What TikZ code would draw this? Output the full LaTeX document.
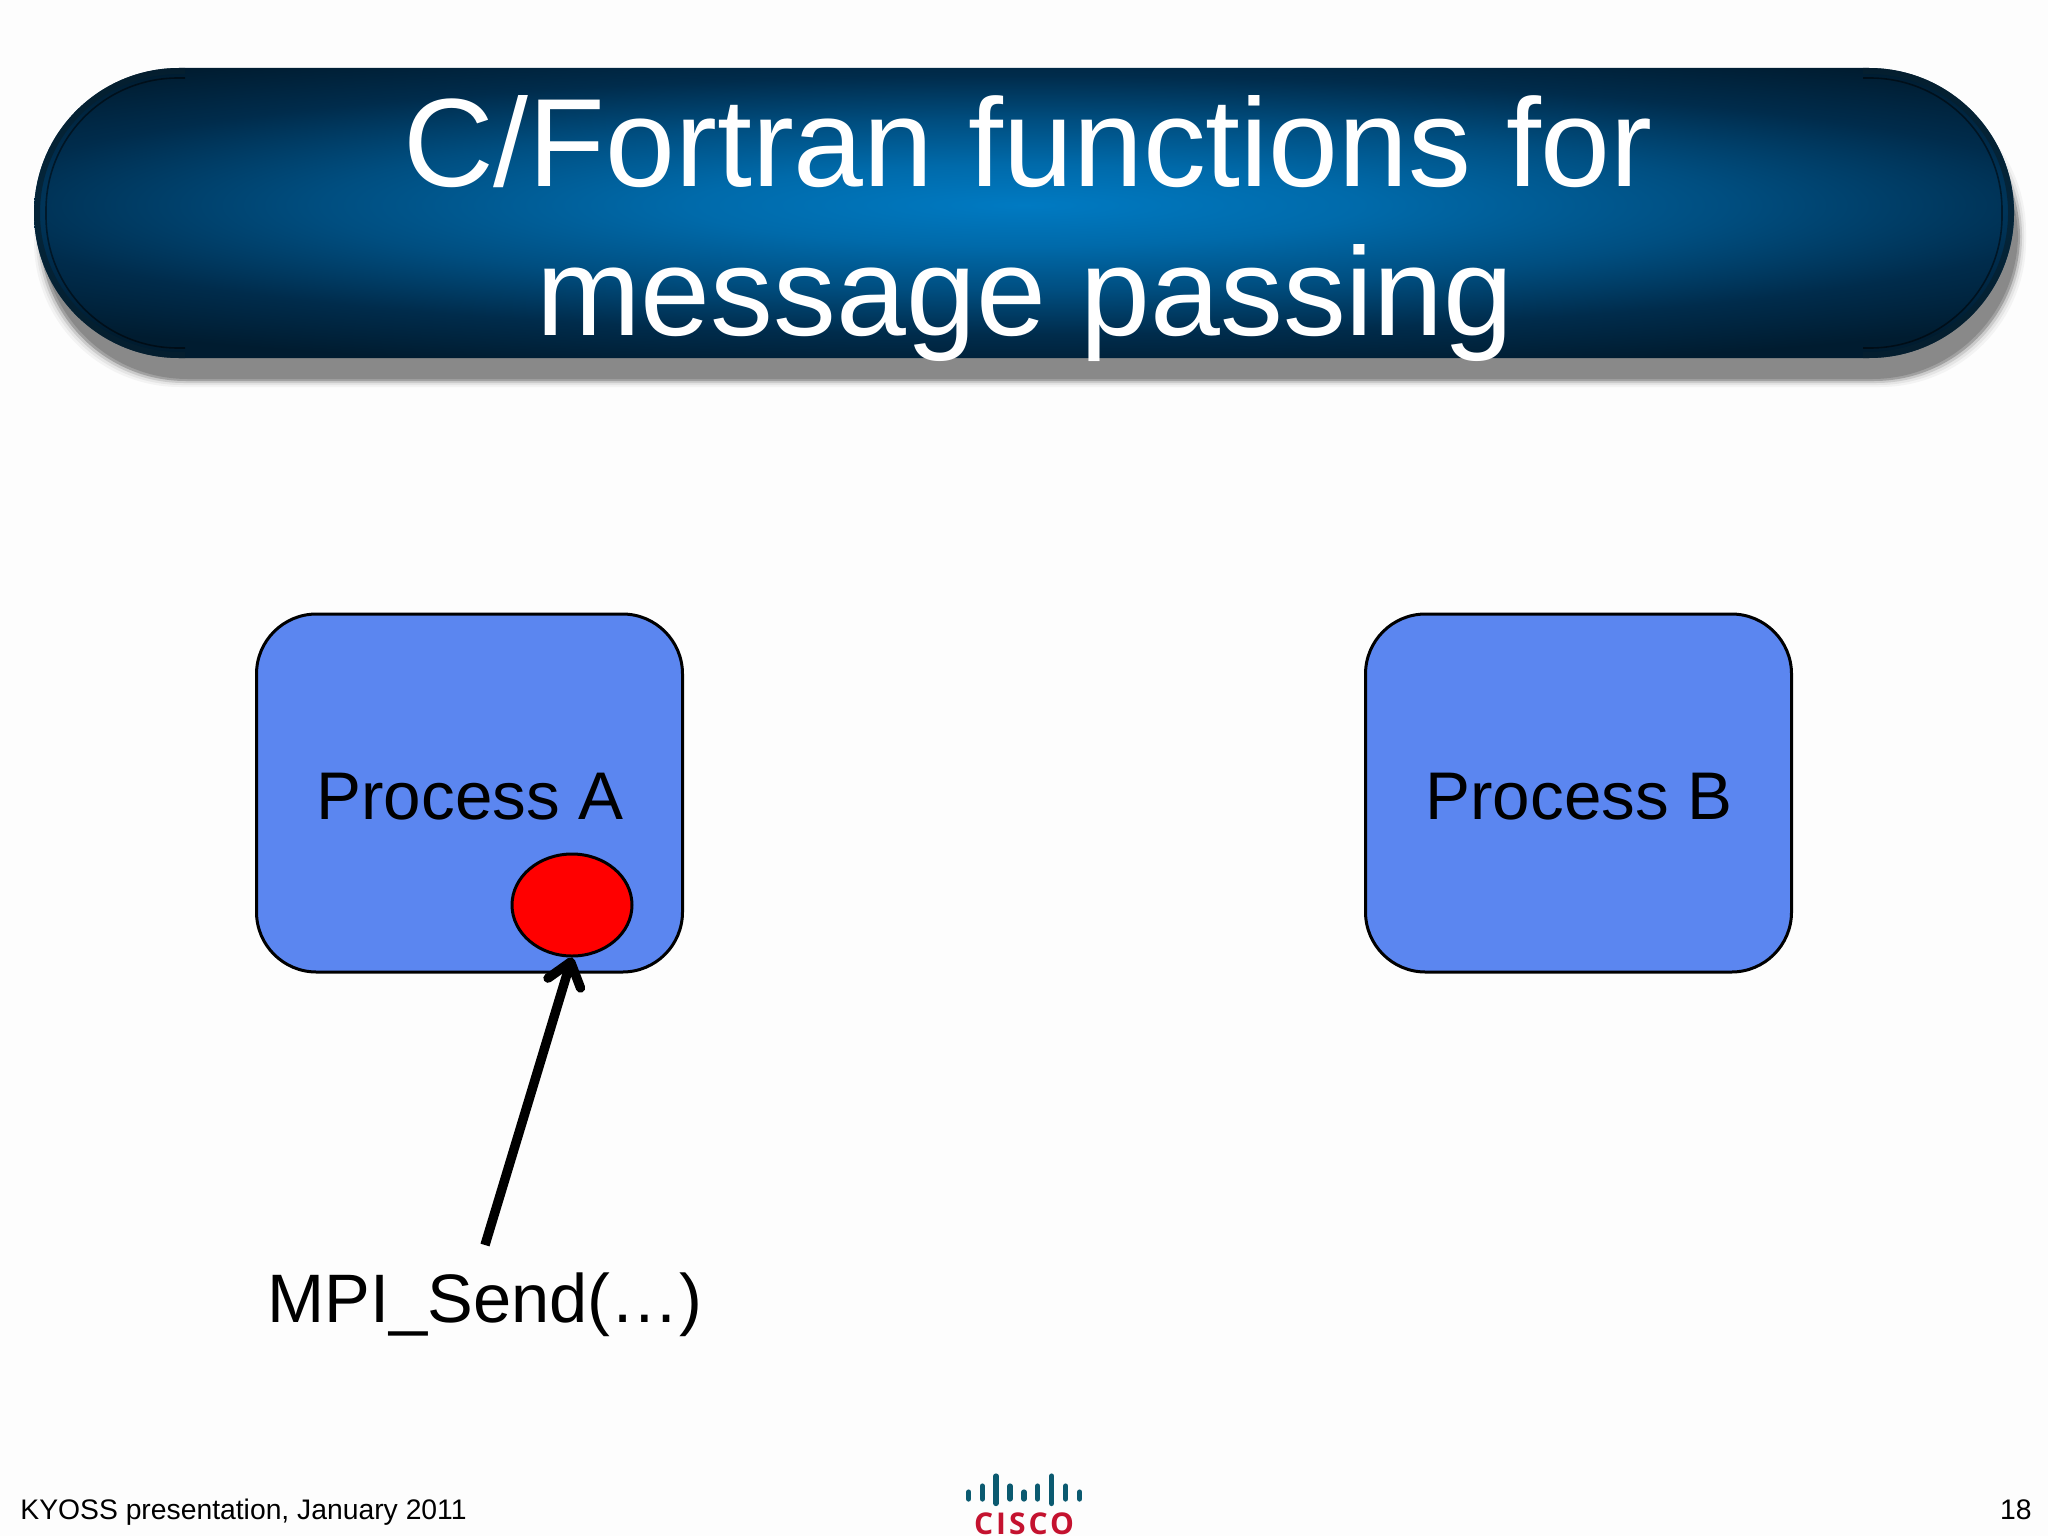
\documentclass[tikz,border=0pt]{standalone}
\usepackage{fontspec}
\setmainfont{Liberation Sans}
\newfontfamily\logofont[LetterSpace=10]{Open Sans Bold}
\usetikzlibrary{arrows.meta,shapes.geometric,calc}
\definecolor{procblue}{HTML}{5B86F0}
\definecolor{logoteal}{HTML}{0B5A70}
\definecolor{logored}{HTML}{C4122F}
\definecolor{rimdark}{HTML}{06202F}
\definecolor{pagewhite}{HTML}{FDFDFD}
\definecolor{glowa}{HTML}{007AC2}
\definecolor{glowb}{HTML}{006AAA}
\definecolor{glowc}{HTML}{004E80}
\definecolor{glowd}{HTML}{002C4C}
\definecolor{glowe}{HTML}{001C30}
\pgfdeclareradialshading{pillglow}{\pgfpoint{0bp}{0bp}}{%
  color(0bp)=(glowa);
  color(6bp)=(glowb);
  color(12.5bp)=(glowc);
  color(19bp)=(glowd);
  color(25bp)=(glowe);
  color(50bp)=(glowe)}
\tikzset{
  process/.style={draw=black,line width=1.5pt,fill=procblue,rounded corners=30pt,
    minimum width=213pt,minimum height=179pt,inner sep=0pt},
  label/.style={font=\fontsize{33.7pt}{33.7pt}\selectfont,text=black,anchor=base,inner sep=0pt},
  titleline/.style={font=\fontsize{62.8pt}{62.8pt}\selectfont,text=white,anchor=base,inner sep=0pt},
  footer/.style={font=\fontsize{14.15pt}{14.15pt}\selectfont,text=black,inner sep=0pt},
  token/.style={ellipse,draw=black,line width=1.5pt,fill=red,minimum width=60pt,minimum height=51pt,inner sep=0pt},
  sendarrow/.style={line width=4.7pt,-{Straight Barb[length=11pt,width=17pt,line width=4.7pt,round]}},
  bar/.style={logoteal,line width=2.6pt,line cap=round}
}
\begin{document}
\begin{tikzpicture}[x=0.5pt,y=-0.5pt]
\useasboundingbox (0,0) rectangle (2048,1536);
\fill[pagewhite] (0,0) rectangle (2048,1536);
% banner shadow
\foreach \g/\o in {6/.08,4/.12,2/.25,0/.55,-2/.7}{
  \fill[black!50,opacity=\o,rounded corners=73pt] (40-\g,92-\g) rectangle (2020+\g,381+\g);
}
% banner
\begin{scope}
  \clip[rounded corners=72.5pt] (34,68) rectangle (2014,358);
  \shade[shading=pillglow] (-376,35) rectangle (2424,375);
  \begin{scope}
    \clip (0,0) rectangle (185,400) (1863,0) rectangle (2048,400);
    \draw[rimdark,line width=6pt,opacity=.75,rounded corners=72.5pt] (34,68) rectangle (2014,358);
    \draw[black,line width=.8pt,opacity=.5,rounded corners=66pt] (46,78) rectangle (2002,348);
  \end{scope}
\end{scope}
\node[titleline] (t1) at (1028,186) {C/Fortran functions for};
\node[titleline] (t2) at (1025,335) {message passing};
% processes
\node[process] (A) at (469.5,793) {};
\node[process] (B) at (1578.5,793) {};
\node[label] (la) at (470,819) {Process A};
\node[label] (lb) at (1579,819) {Process B};
\node[token] (tok) at (572,905) {};
\coordinate (start) at (485,1245);
\draw[sendarrow] (start) -- (tok.south);
\node[label,font=\fontsize{34.3pt}{34.3pt}\selectfont] (call) at (485,1322) {MPI\_Send(…)};
% footer
\node[footer,anchor=base west] (fl) at (20,1519) {KYOSS presentation, January 2011};
\node[footer,anchor=base east] (fr) at (2032,1519) {18};
% logo
\foreach \x/\a/\b in {968.7/1492/1499,982.3/1486/1499,996/1476/1503.5,1010/1486/1499,1024/1492/1499,1037.7/1486/1499,1051.7/1476/1503.5,1065.7/1486/1499,1079.7/1492/1499}{
  \draw[bar] (\x,\a) -- (\x,\b);
}
\node[anchor=base,inner sep=0pt,text=logored,font=\logofont\fontsize{15pt}{15pt}\selectfont] (cisco) at (1024,1534.5) {CISCO};
\end{tikzpicture}
\end{document}
